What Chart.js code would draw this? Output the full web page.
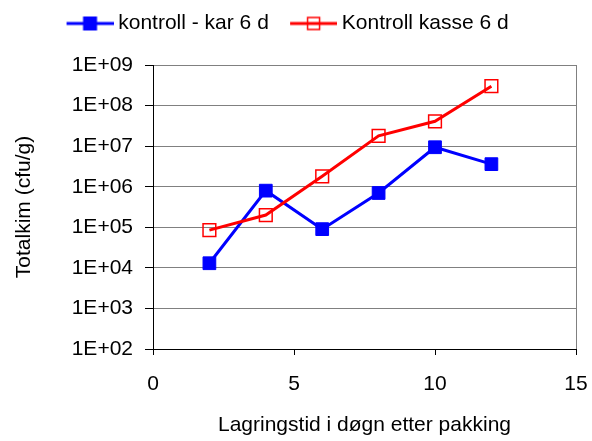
<!DOCTYPE html>
<html>
<head>
<meta charset="utf-8">
<script src="https://cdn.jsdelivr.net/npm/chart.js@4"></script>
<style>
  html, body { margin: 0; padding: 0; background: #fff; }
</style>
</head>
<body>
<canvas id="kimChart" width="592" height="441"></canvas>
<script>
const days = [2, 4, 6, 8, 10, 12];
const karValues = [1.3e4, 8e5, 9e4, 7e5, 9.4e6, 3.6e6];
const kasseValues = [8.5e4, 2e5, 1.8e6, 1.8e7, 4.1e7, 3e8];
const seriesNames = ['kontroll - kar 6 d', 'Kontroll kasse 6 d'];
const yTicks = [1e2, 1e3, 1e4, 1e5, 1e6, 1e7, 1e8, 1e9];
const yTickLabels = ['1E+02', '1E+03', '1E+04', '1E+05', '1E+06', '1E+07', '1E+08', '1E+09'];
const xTicks = [0, 5, 10, 15];

Chart.defaults.font.family = '"Liberation Sans", Arial, sans-serif';
Chart.defaults.font.size = 21;
Chart.defaults.color = '#000';

// little line + square sample for the legend
function legendMarker(color, filled) {
  const c = document.createElement('canvas');
  c.width = 64;
  c.height = 16;
  const g = c.getContext('2d');
  g.strokeStyle = color;
  g.lineWidth = 3;
  g.beginPath();
  g.moveTo(17, 8);
  g.lineTo(64, 8);
  g.stroke();
  const cx = 40.5;
  if (filled) {
    g.fillStyle = color;
    g.fillRect(cx - 7, 1, 14, 14);
  } else {
    g.lineWidth = 1.5;
    g.strokeRect(cx - 6, 2, 12, 12);
  }
  return c;
}

// fixed legend band height, and nudge the legend a bit
const legendTweak = {
  id: 'legendTweak',
  beforeLayout(chart) {
    const legend = chart.legend;
    if (!legend || legend._patched) return;
    const fit = legend.fit;
    const draw = legend.draw;
    legend.fit = function () {
      fit.call(this);
      this.height = 65;
    };
    legend.draw = function () {
      const c = this.ctx;
      c.save();
      c.translate(-6, 3);
      draw.call(this);
      c.restore();
    };
    legend._patched = true;
  }
};

const colors = ['#0000FF', '#FF0000'];

const ctx = document.getElementById('kimChart').getContext('2d');
const chart = new Chart(ctx, {
  type: 'line',
  data: {
    datasets: [{
      label: seriesNames[0],
      data: days.map((d, i) => ({ x: d, y: karValues[i] })),
      borderColor: colors[0],
      backgroundColor: colors[0],
      borderWidth: 3,
      pointStyle: 'rect',
      pointRadius: 9,
      pointBorderWidth: 1,
      order: 2
    }, {
      label: seriesNames[1],
      data: days.map((d, i) => ({ x: d, y: kasseValues[i] })),
      borderColor: colors[1],
      backgroundColor: 'rgba(0,0,0,0)',
      borderWidth: 3,
      pointStyle: 'rect',
      pointRadius: 9,
      pointBorderWidth: 1.5,
      order: 1
    }]
  },
  options: {
    responsive: false,
    animation: false,
    events: [],
    layout: { padding: { left: 0, right: 16, top: 0, bottom: 0 } },
    plugins: {
      tooltip: { enabled: false },
      legend: {
        position: 'top',
        labels: {
          usePointStyle: true,
          pointStyleWidth: 52.5,
          padding: 10,
          font: { size: 21 },
          generateLabels: () => seriesNames.map((name, i) => ({
            text: name,
            pointStyle: legendMarker(colors[i], i === 0),
            fillStyle: colors[i],
            strokeStyle: colors[i],
            lineWidth: 0,
            hidden: false,
            datasetIndex: i,
            fontColor: '#000'
          }))
        }
      }
    },
    scales: {
      x: {
        type: 'linear',
        min: 0,
        max: 15,
        afterBuildTicks: s => { s.ticks = xTicks.map(v => ({ value: v })); },
        afterFit: s => {
          s.height = 92;
          s.paddingLeft = 0;
          s.paddingRight = 0;
        },
        ticks: { padding: 17, color: '#000', maxRotation: 0 },
        grid: {
          color: c => (c.tick && c.tick.value === 15 ? '#808080' : 'rgba(0,0,0,0)'),
          tickColor: '#000',
          tickLength: 6
        },
        border: { color: '#000', width: 1 },
        title: {
          display: true,
          text: 'Lagringstid i døgn etter pakking',
          color: '#000',
          padding: { top: 0, bottom: 3 }
        }
      },
      y: {
        type: 'logarithmic',
        min: 1e2,
        max: 1e9,
        afterBuildTicks: s => { s.ticks = yTicks.map(v => ({ value: v })); },
        afterFit: s => { s.width = 153; },
        ticks: {
          autoSkip: false,
          padding: 12,
          color: '#000',
          callback: v => yTickLabels[yTicks.indexOf(v)]
        },
        grid: { color: '#808080', tickColor: '#000', tickLength: 8 },
        border: { color: '#000', width: 1 },
        title: {
          display: true,
          text: 'Totalkim (cfu/g)',
          color: '#000',
          padding: { top: 12, bottom: 0 }
        }
      }
    }
  },
  plugins: [legendTweak]
});
</script>
</body>
</html>
